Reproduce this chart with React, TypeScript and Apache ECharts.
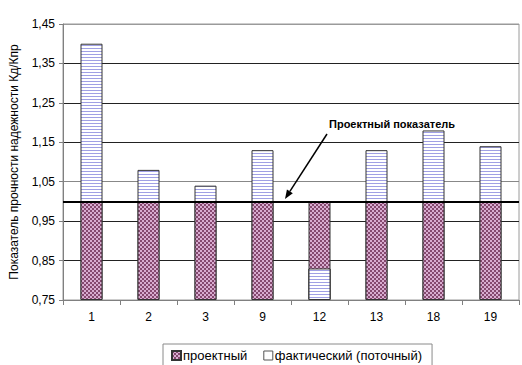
import React, { useEffect, useRef } from "react";
import * as echarts from "echarts";

const categories = ["1", "2", "3", "9", "12", "13", "18", "19"];
const projectValues = [1, 1, 1, 1, 1, 1, 1, 1];
const actualValues = [1.4, 1.08, 1.04, 1.13, 0.83, 1.13, 1.18, 1.14];
const AXIS_MIN = 0.75;
const AXIS_MAX = 1.45;
const AXIS_STEP = 0.1;
const designLevel = 1.0;
const annotationText = "Проектный показатель";
const yAxisName = "Показатель прочности надежности Кд/Кпр";
const legendNames = ["проектный", "фактический (поточный)"];

function makeChecker() {
  const c = document.createElement("canvas");
  c.width = 4;
  c.height = 4;
  const ctx = c.getContext("2d")!;
  ctx.fillStyle = "#d8acd0";
  ctx.fillRect(0, 0, 4, 4);
  ctx.fillStyle = "#85496f";
  ctx.fillRect(0, 0, 2, 2);
  ctx.fillRect(2, 2, 2, 2);
  return { image: c, repeat: "repeat", imageWidth: 4, imageHeight: 4 } as any;
}

function makeStripes() {
  const c = document.createElement("canvas");
  c.width = 4;
  c.height = 3;
  const ctx = c.getContext("2d")!;
  ctx.fillStyle = "#ffffff";
  ctx.fillRect(0, 0, 4, 3);
  ctx.fillStyle = "#a0a0e4";
  ctx.fillRect(0, 0, 4, 1);
  return { image: c, repeat: "repeat", imageWidth: 4, imageHeight: 3 } as any;
}

export default function App() {
  const ref = useRef<HTMLDivElement>(null);
  useEffect(() => {
    if (!ref.current) return;
    const chart = echarts.init(ref.current, undefined, { renderer: "svg" });
    const checker = makeChecker();
    const stripes = makeStripes();
    const shift = (v: number) => +(v - AXIS_MIN).toFixed(4);

    // arrow geometry
    const tip = [285, 199];
    const start = [327, 134];
    const dx = tip[0] - start[0];
    const dy = tip[1] - start[1];
    const len = Math.sqrt(dx * dx + dy * dy);
    const ux = dx / len;
    const uy = dy / len;
    const bx = tip[0] - 9 * ux;
    const by = tip[1] - 9 * uy;
    const px = -uy;
    const py = ux;

    chart.setOption({
      animation: false,
      textStyle: { fontFamily: "Arial, 'Liberation Sans', sans-serif" },
      grid: {
        left: 60,
        right: 3,
        top: 24,
        bottom: 65,
        show: true,
        borderColor: "#9a9a9a",
        borderWidth: 1,
      },
      legend: {
        left: 163,
        top: 344,
        padding: [5, 10, 5, 8],
        borderColor: "#8a8a8a",
        borderWidth: 1,
        itemWidth: 9,
        itemHeight: 9,
        itemGap: 16,
        icon: "rect",
        textStyle: { fontSize: 13, color: "#000", padding: [0, 0, 0, -3] },
        data: [
          { name: legendNames[0] },
          {
            name: legendNames[1],
            itemStyle: { color: "#fff", borderColor: "#555", borderWidth: 1 },
          },
        ],
      },
      xAxis: {
        type: "category",
        data: categories,
        axisLine: { lineStyle: { color: "#808080", width: 1 } },
        axisTick: { show: true, length: 5, alignWithLabel: false, lineStyle: { color: "#808080" } },
        axisLabel: { fontSize: 12, color: "#000", margin: 11 },
        splitLine: { show: false },
      },
      yAxis: {
        type: "value",
        min: 0,
        max: +(AXIS_MAX - AXIS_MIN).toFixed(4),
        interval: AXIS_STEP,
        name: yAxisName,
        nameLocation: "middle",
        nameGap: 43,
        nameTextStyle: { fontSize: 12, color: "#000" },
        axisLine: { show: true, lineStyle: { color: "#808080", width: 1 } },
        axisTick: { show: true, length: 4, lineStyle: { color: "#808080" } },
        axisLabel: {
          fontSize: 12,
          color: "#000",
          margin: 8,
          formatter: (v: number) => (v + AXIS_MIN).toFixed(2).replace(".", ","),
        },
        splitLine: {
          show: true,
          lineStyle: {
            color: ["#808080", "#222", "#222", "#888", "#222", "#222", "#222", "#9a9a9a"],
            width: 1,
          },
        },
      },
      series: [
        {
          name: legendNames[1],
          type: "bar",
          barWidth: 22,
          barGap: "-100%",
          z: 2,
          itemStyle: { color: stripes, borderColor: "#333", borderWidth: 1 },
          data: actualValues.map(shift),
        },
        {
          name: legendNames[0],
          type: "bar",
          barWidth: 22,
          barGap: "-100%",
          z: 3,
          itemStyle: { color: checker, borderColor: "#333", borderWidth: 1 },
          data: projectValues.map(shift),
          markLine: {
            silent: true,
            symbol: "none",
            label: { show: false },
            lineStyle: { color: "#000", width: 2, type: "solid" },
            data: [{ yAxis: shift(designLevel) }],
            z: 5,
          },
        },
        {
          name: legendNames[1],
          type: "bar",
          barWidth: 22,
          barGap: "-100%",
          z: 4,
          itemStyle: { color: stripes, borderColor: "#333", borderWidth: 1 },
          data: actualValues.map((v, i) => (v < projectValues[i] ? shift(v) : "-")),
        },
      ],
      graphic: [
        {
          type: "text",
          left: 329,
          top: 118,
          style: {
            text: annotationText,
            font: "bold 11px Arial, 'Liberation Sans', sans-serif",
            fill: "#000",
          },
          z: 10,
        },
        {
          type: "line",
          shape: { x1: start[0], y1: start[1], x2: bx, y2: by },
          style: { stroke: "#000", lineWidth: 1.5 },
          z: 10,
        },
        {
          type: "polygon",
          shape: {
            points: [
              [tip[0], tip[1]],
              [bx + 3.5 * px, by + 3.5 * py],
              [bx - 3.5 * px, by - 3.5 * py],
            ],
          },
          style: { fill: "#000" },
          z: 10,
        },
      ],
    });
    return () => chart.dispose();
  }, []);
  return (
    <div
      ref={ref}
      style={{ position: "absolute", left: 0, top: 0, width: 522, height: 365 }}
    />
  );
}
